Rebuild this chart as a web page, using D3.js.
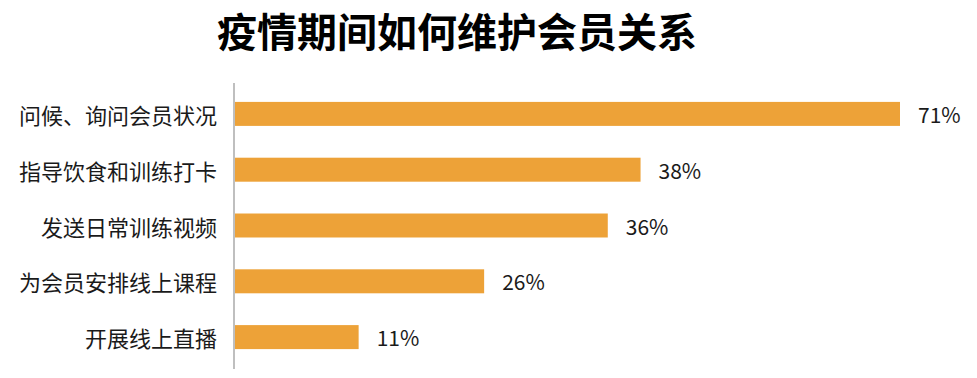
<!DOCTYPE html>
<html><head><meta charset="utf-8">
<script src="https://cdn.jsdelivr.net/npm/d3@7"></script>
<style>
html,body{margin:0;padding:0;background:#fff;}
svg{display:block;}
</style></head>
<body>
<svg id="chart" width="977" height="378"></svg>
<script>
const title = "疫情期间如何维护会员关系";
const categories = ["问候、询问会员状况","指导饮食和训练打卡","发送日常训练视频","为会员安排线上课程","开展线上直播"];
const barValues = [71, 43.3, 39.8, 26.6, 13.2];
const valueLabels = ["71%","38%","36%","26%","11%"];

const svg = d3.select("#chart");
const font = "'Noto Sans CJK SC','Noto Sans',sans-serif";

svg.append("text")
  .attr("x", 457).attr("y", 30)
  .attr("text-anchor","middle").attr("dominant-baseline","central")
  .attr("font-family", font).attr("font-weight", "bold")
  .attr("font-size", 40).attr("fill", "#000")
  .text(title);

const x = d3.scaleLinear().domain([0, 71]).range([235, 900]);
const y = d3.scaleBand().domain(categories).range([86, 365])
  .paddingInner(0.57).paddingOuter(0.285);

svg.selectAll("rect.bar").data(categories).join("rect")
  .attr("class","bar")
  .attr("x", x(0))
  .attr("y", d => y(d))
  .attr("width", (d,i) => x(barValues[i]) - x(0))
  .attr("height", y.bandwidth())
  .attr("fill", "#EDA238");

svg.append("line")
  .attr("x1", 234).attr("x2", 234).attr("y1", 83).attr("y2", 369)
  .attr("stroke", "#BFBFBF").attr("stroke-width", 2);

svg.selectAll("text.cat").data(categories).join("text")
  .attr("class","cat")
  .attr("x", 217)
  .attr("y", d => y(d) + y.bandwidth()/2)
  .attr("text-anchor","end").attr("dominant-baseline","central")
  .attr("font-family", font).attr("font-size", 22).attr("fill", "#1a1a1a")
  .text(d => d);

svg.selectAll("text.val").data(categories).join("text")
  .attr("class","val")
  .attr("x", (d,i) => x(barValues[i]) + 18)
  .attr("y", d => y(d) + y.bandwidth()/2)
  .attr("text-anchor","start").attr("dominant-baseline","central")
  .attr("font-family", font).attr("font-size", 21).attr("fill", "#1a1a1a")
  .text((d,i) => valueLabels[i]);
</script>
</body></html>
